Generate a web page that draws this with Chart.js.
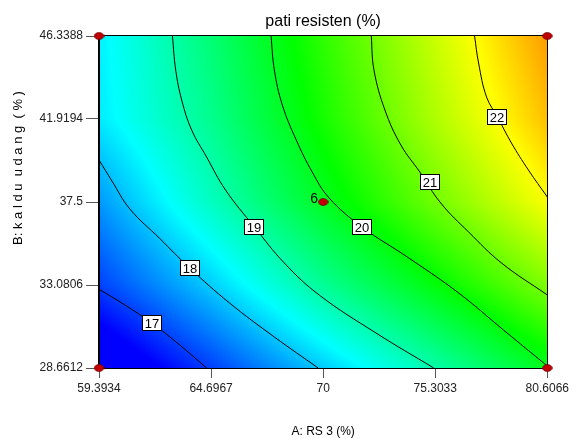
<!DOCTYPE html>
<html>
<head>
<meta charset="utf-8">
<script src="https://cdn.jsdelivr.net/npm/chart.js@4.4.1/dist/chart.umd.min.js"></script>
<style>
  html, body { margin: 0; padding: 0; background: #fff; }
</style>
</head>
<body>
<canvas id="myChart" width="572" height="439"></canvas>
<script>
const FONT = '"Liberation Sans", Arial, sans-serif';

// axis ticks (A: RS 3, B: kaldu udang)
const xTicks = [59.3934, 64.6967, 70, 75.3033, 80.6066];
const xTickLabels = ['59.3934', '64.6967', '70', '75.3033', '80.6066'];
const yTicks = [28.6612, 33.0806, 37.5, 41.9194, 46.3388];
const yTickLabels = ['28.6612', '33.0806', '37.5', '41.9194', '46.3388'];

// response at the tick grid, rows go from B low to B high
const rowB0 = [16.05, 17.04, 18.04, 19.01, 20.0];
const rowB1 = [17.05, 18.05, 19.15, 20.13, 21.1];
const rowB2 = [17.67, 18.84, 19.96, 20.99, 21.97];
const rowB3 = [18.25, 19.2, 20.34, 21.43, 22.45];
const rowB4 = [18.3, 19.39, 20.52, 21.62, 22.7];

// colour ramp: blue, cyan, green, yellow, red
const rampValues = [16.6, 18.4, 20.2, 22.0, 23.8];
const rampColors = [[0, 0, 255], [0, 255, 255], [0, 255, 0], [255, 255, 0], [255, 0, 0]];

// contour lines (A, B)
const c17A = [59.393, 60.619, 61.892, 63.212, 64.484];
const c17B = [32.852, 32.016, 31.057, 29.886, 28.661];
const c18A = [59.393, 60.006, 60.855, 62.269, 63.683, 65.569, 67.690, 69.764];
const c18B = [39.737, 38.618, 37.127, 35.556, 33.986, 32.122, 30.312, 28.661];
const c19A = [62.868, 63.023, 63.306, 63.778, 64.485, 65.380, 66.747, 68.162, 69.812, 72.499, 75.233];
const c19B = [46.339, 44.528, 42.931, 41.333, 39.896, 38.139, 36.169, 34.252, 32.548, 30.525, 28.661];
const c20A = [67.534, 67.690, 68.067, 68.727, 69.481, 70.283, 71.838, 74.054, 76.411, 78.532, 80.607];
const c20B = [46.339, 44.528, 42.665, 40.801, 39.097, 37.713, 36.169, 34.518, 32.655, 30.685, 28.768];
const c21A = [72.277, 72.404, 72.922, 73.677, 74.573, 75.563, 76.883, 78.439, 80.607];
const c21B = [46.339, 44.528, 42.398, 40.534, 39.097, 37.446, 35.902, 34.252, 32.548];
const c22A = [77.165, 77.354, 77.731, 78.249, 78.909, 79.711, 80.607];
const c22B = [46.339, 44.901, 43.091, 42.026, 40.641, 39.204, 37.766];

const labelLevels = [17, 18, 19, 20, 21, 22];
const labelA = [61.892, 63.683, 66.747, 71.838, 75.044, 78.249];
const labelB = [31.057, 33.986, 36.169, 36.169, 38.565, 42.026];

// design points
const designA = [59.3934, 80.6066, 59.3934, 80.6066, 70];
const designB = [28.6612, 28.6612, 46.3388, 46.3388, 37.5];
const designTags = ['', '', '', '', '6'];

const surfaceRows = [rowB0, rowB1, rowB2, rowB3, rowB4];

function cellIndex(ticks, v) {
    let i = 0;
    while (i < ticks.length - 2 && v > ticks[i + 1]) i++;
    return i;
}

function surface(a, b) {
    const i = cellIndex(xTicks, a);
    const j = cellIndex(yTicks, b);
    const u = (a - xTicks[i]) / (xTicks[i + 1] - xTicks[i]);
    const v = (b - yTicks[j]) / (yTicks[j + 1] - yTicks[j]);
    const r0 = surfaceRows[j], r1 = surfaceRows[j + 1];
    const lo = r0[i] + (r0[i + 1] - r0[i]) * u;
    const hi = r1[i] + (r1[i + 1] - r1[i]) * u;
    return lo + (hi - lo) * v;
}

function colorFor(val) {
    if (val <= rampValues[0]) return rampColors[0];
    const n = rampValues.length - 1;
    if (val >= rampValues[n]) return rampColors[n];
    let k = 0;
    while (val > rampValues[k + 1]) k++;
    const t = (val - rampValues[k]) / (rampValues[k + 1] - rampValues[k]);
    const c0 = rampColors[k], c1 = rampColors[k + 1];
    return [0, 1, 2].map(m => Math.round(c0[m] + (c1[m] - c0[m]) * t));
}

// small red ellipse used as the design point marker
const marker = document.createElement('canvas');
marker.width = 11;
marker.height = 8;
(function () {
    const m = marker.getContext('2d');
    m.beginPath();
    m.ellipse(5.5, 4, 4.8, 3.4, 0, 0, Math.PI * 2);
    m.fillStyle = '#c00000';
    m.fill();
    m.strokeStyle = '#700000';
    m.lineWidth = 0.8;
    m.stroke();
})();

const heatmap = {
    id: 'heatmap',
    beforeDraw(chart) {
        const {ctx, chartArea: area, scales: {x, y}} = chart;
        const l = Math.round(area.left), t = Math.round(area.top);
        const w = Math.round(area.right) - l, h = Math.round(area.bottom) - t;
        const img = ctx.createImageData(w, h);
        for (let j = 0; j < h; j++) {
            const b = y.getValueForPixel(t + j + 0.5);
            for (let i = 0; i < w; i++) {
                const a = x.getValueForPixel(l + i + 0.5);
                const c = colorFor(surface(a, b));
                const p = (j * w + i) * 4;
                img.data[p] = c[0];
                img.data[p + 1] = c[1];
                img.data[p + 2] = c[2];
                img.data[p + 3] = 255;
            }
        }
        ctx.putImageData(img, l, t);
    },
    beforeDatasetsDraw(chart) {
        const {ctx, chartArea: area} = chart;
        ctx.save();
        ctx.strokeStyle = '#000';
        ctx.lineWidth = 1;
        ctx.strokeRect(Math.round(area.left) - 0.5, Math.round(area.top) - 0.5,
            Math.round(area.right) - Math.round(area.left) + 1, Math.round(area.bottom) - Math.round(area.top) + 1);
        ctx.restore();
    },
    afterDatasetsDraw(chart) {
        const {ctx, scales: {x, y}} = chart;
        ctx.save();
        ctx.font = '13px ' + FONT;
        ctx.textAlign = 'center';
        ctx.textBaseline = 'middle';
        labelLevels.forEach((lev, i) => {
            const px = Math.round(x.getPixelForValue(labelA[i]));
            const py = Math.round(y.getPixelForValue(labelB[i]));
            const txt = String(lev);
            const w = Math.ceil(ctx.measureText(txt).width) + 5, h = 16;
            const bx = Math.round(px - w / 2), by = Math.round(py - h / 2);
            ctx.fillStyle = '#fff';
            ctx.fillRect(bx, by, w, h);
            ctx.strokeStyle = '#000';
            ctx.lineWidth = 1;
            ctx.strokeRect(bx + 0.5, by + 0.5, w - 1, h - 1);
            ctx.fillStyle = '#000';
            ctx.fillText(txt, px, py + 1);
        });
        ctx.font = '14px ' + FONT;
        ctx.textAlign = 'right';
        designTags.forEach((tag, i) => {
            if (!tag) return;
            ctx.fillText(tag, x.getPixelForValue(designA[i]) - 5, y.getPixelForValue(designB[i]) - 3);
        });
        ctx.restore();
    },
    afterDraw(chart) {
        const {ctx} = chart;
        ctx.save();
        ctx.translate(18, 168);
        ctx.rotate(-Math.PI / 2);
        ctx.font = '13px ' + FONT;
        ctx.fillStyle = '#000';
        ctx.textAlign = 'center';
        ctx.textBaseline = 'middle';
        ctx.fillText('B: k a l d u  u d a n g  ( % )', 0, 0);
        ctx.restore();
    }
};

function contour(as, bs) {
    return {
        data: as.map((a, i) => ({x: a, y: bs[i]})),
        showLine: true,
        borderColor: '#000',
        borderWidth: 1,
        pointRadius: 0,
        tension: 0.4,
        fill: false
    };
}

const ctx = document.getElementById('myChart').getContext('2d');
const myChart = new Chart(ctx, {
    type: 'scatter',
    data: {
        datasets: [
            {
                data: designA.map((a, i) => ({x: a, y: designB[i]})),
                pointStyle: marker,
                pointRadius: 5,
                clip: false
            },
            contour(c17A, c17B),
            contour(c18A, c18B),
            contour(c19A, c19B),
            contour(c20A, c20B),
            contour(c21A, c21B),
            contour(c22A, c22B)
        ]
    },
    options: {
        responsive: false,
        animation: false,
        layout: {padding: {left: 0, right: 23, top: 0, bottom: 0}},
        plugins: {
            legend: {display: false},
            tooltip: {enabled: false},
            title: {
                display: true,
                text: 'pati resisten (%)',
                fullSize: false,
                color: '#000',
                font: {family: FONT, size: 16, weight: 'normal'},
                padding: {top: 12, bottom: 4.8}
            }
        },
        scales: {
            x: {
                type: 'linear',
                min: xTicks[0],
                max: xTicks[xTicks.length - 1],
                afterBuildTicks: s => { s.ticks = xTicks.map(v => ({value: v})); },
                afterFit: s => { s.height = 71; },
                ticks: {
                    color: '#222',
                    font: {family: FONT, size: 12},
                    padding: 3,
                    maxRotation: 0,
                    callback: (v, i) => xTickLabels[i]
                },
                grid: {drawOnChartArea: false, color: '#555', tickLength: 10},
                border: {color: '#000'},
                title: {
                    display: true,
                    text: 'A: RS 3 (%)',
                    color: '#000',
                    font: {family: FONT, size: 12},
                    padding: {top: 0, bottom: 0}
                }
            },
            y: {
                type: 'linear',
                min: yTicks[0],
                max: yTicks[yTicks.length - 1],
                afterBuildTicks: s => { s.ticks = yTicks.map(v => ({value: v})); },
                afterFit: s => { s.width = 99; },
                ticks: {
                    color: '#222',
                    font: {family: FONT, size: 12},
                    padding: 3,
                    callback: (v, i) => yTickLabels[i]
                },
                grid: {drawOnChartArea: false, color: '#555', tickLength: 13},
                border: {color: '#000'}
            }
        }
    },
    plugins: [heatmap]
});
</script>
</body>
</html>
